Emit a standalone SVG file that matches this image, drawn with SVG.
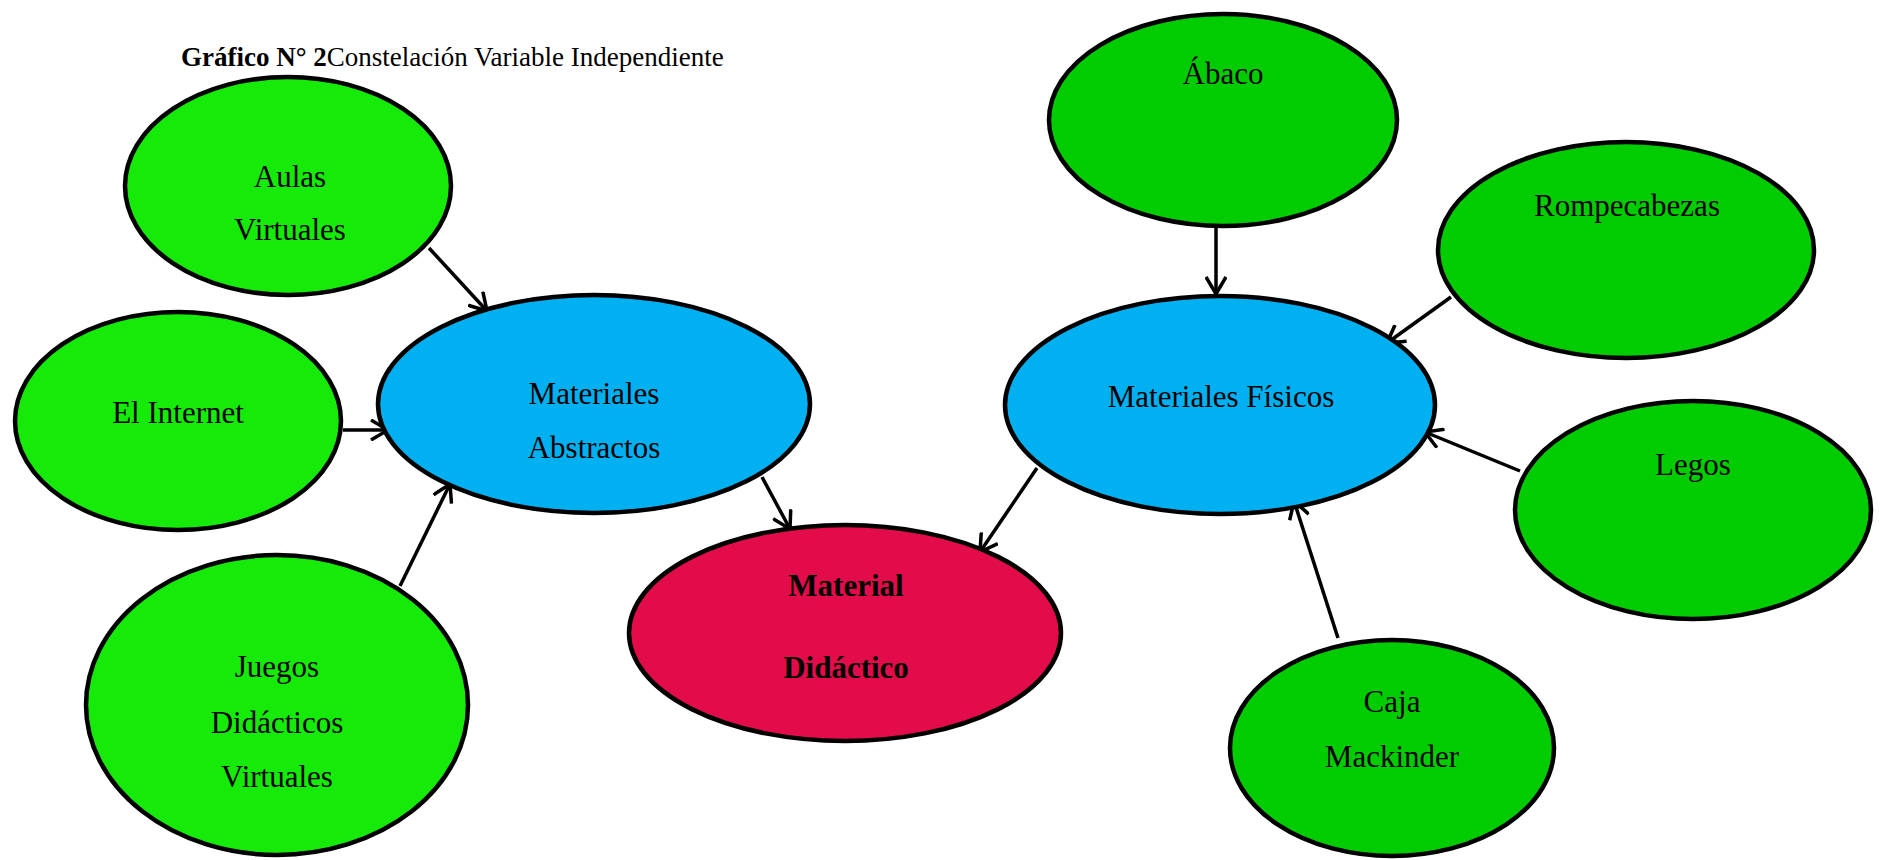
<svg xmlns="http://www.w3.org/2000/svg" width="1880" height="860" viewBox="0 0 1880 860">
  <style>
    .node { stroke: #000; stroke-width: 4.5; }
    .lg { fill: #16EA08; }
    .dg { fill: #00CC00; }
    .bl { fill: #00B0F0; }
    .rd { fill: #E30C4A; }
    .t { font-family: "Liberation Serif", "Times New Roman", serif; font-size: 31px; fill: #000; text-anchor: middle; }
    .b { font-weight: bold; }
    .conn line { stroke: #000; stroke-width: 3.5; fill: none; }
  </style>
  <defs>
    <marker id="arr" viewBox="0 0 20 22" markerWidth="20" markerHeight="22" markerUnits="userSpaceOnUse" refX="18" refY="11" orient="auto">
      <path d="M1,1 L18,11 L1,21" fill="none" stroke="#000" stroke-width="3.5" stroke-linejoin="miter"/>
    </marker>
  </defs>
  <rect width="1880" height="860" fill="#fff"/>

  <text x="181" y="66" font-family="Liberation Serif, Times New Roman, serif" font-size="27" fill="#000"><tspan font-weight="bold">Gráfico N° 2</tspan>Constelación Variable Independiente</text>

  <g class="conn">
    <line x1="429" y1="248" x2="487" y2="311" marker-end="url(#arr)"/>
    <line x1="343" y1="430" x2="388" y2="430" marker-end="url(#arr)"/>
    <line x1="400" y1="586" x2="450" y2="484" marker-end="url(#arr)"/>
    <line x1="762" y1="477" x2="790" y2="529" marker-end="url(#arr)"/>
    <line x1="1037" y1="468" x2="980" y2="552" marker-end="url(#arr)"/>
    <line x1="1216" y1="225" x2="1216" y2="294" marker-end="url(#arr)"/>
    <line x1="1451" y1="297" x2="1387" y2="343" marker-end="url(#arr)"/>
    <line x1="1520" y1="471" x2="1425" y2="432" marker-end="url(#arr)"/>
    <line x1="1338" y1="638" x2="1294" y2="501" marker-end="url(#arr)"/>
  </g>

  <g id="aulas">
    <ellipse class="node lg" cx="288" cy="186" rx="163" ry="109"/>
    <text class="t" x="290" y="187">Aulas</text>
    <text class="t" x="290" y="240">Virtuales</text>
  </g>
  <g id="internet">
    <ellipse class="node lg" cx="178" cy="421" rx="163" ry="109"/>
    <text class="t" x="178" y="423">El Internet</text>
  </g>
  <g id="juegos">
    <ellipse class="node lg" cx="277" cy="705" rx="191" ry="150"/>
    <text class="t" x="277" y="677">Juegos</text>
    <text class="t" x="277" y="733">Didácticos</text>
    <text class="t" x="277" y="787">Virtuales</text>
  </g>
  <g id="abstractos">
    <ellipse class="node bl" cx="594" cy="404" rx="216" ry="109"/>
    <text class="t" x="594" y="404">Materiales</text>
    <text class="t" x="594" y="458">Abstractos</text>
  </g>
  <g id="didactico">
    <ellipse class="node rd" cx="845" cy="633" rx="216" ry="108"/>
    <text class="t b" x="846" y="596">Material</text>
    <text class="t b" x="846" y="678">Didáctico</text>
  </g>
  <g id="fisicos">
    <ellipse class="node bl" cx="1220" cy="405" rx="215" ry="109"/>
    <text class="t" x="1221" y="407">Materiales Físicos</text>
  </g>
  <g id="abaco">
    <ellipse class="node dg" cx="1223" cy="120" rx="174" ry="106"/>
    <text class="t" x="1223" y="84">Ábaco</text>
  </g>
  <g id="rompecabezas">
    <ellipse class="node dg" cx="1626" cy="250" rx="188" ry="108"/>
    <text class="t" x="1627" y="216">Rompecabezas</text>
  </g>
  <g id="legos">
    <ellipse class="node dg" cx="1693" cy="510" rx="178" ry="109"/>
    <text class="t" x="1693" y="475">Legos</text>
  </g>
  <g id="caja">
    <ellipse class="node dg" cx="1392" cy="748" rx="162" ry="108"/>
    <text class="t" x="1392" y="712">Caja</text>
    <text class="t" x="1392" y="767">Mackinder</text>
  </g>
</svg>
